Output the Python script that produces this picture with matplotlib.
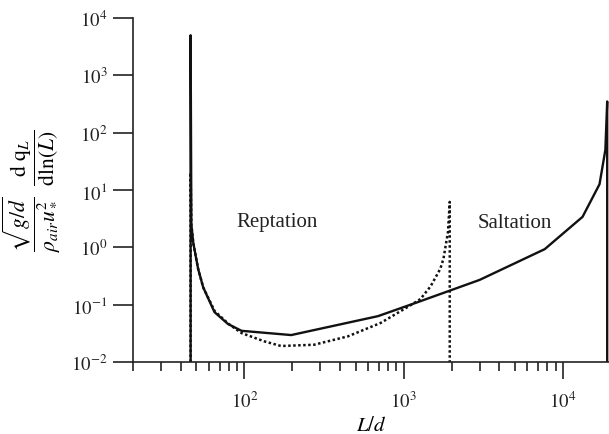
import matplotlib
matplotlib.use("Agg")
import matplotlib.pyplot as plt
from matplotlib.ticker import LogLocator, NullLocator, NullFormatter, FixedLocator

plt.rcParams['font.family'] = 'serif'
plt.rcParams['font.serif'] = ['Liberation Serif', 'DejaVu Serif']
plt.rcParams['mathtext.fontset'] = 'stix'

# Solid curve (L/d, normalised flux density)
solid_x = [46, 46, 46.5, 47.8, 51.3, 55.2, 65, 79, 96, 197, 690, 1220, 3000,
           7700, 13300, 17000, 18500, 19000, 19000]
solid_y = [0.01, 5000, 2.5, 1.2, 0.42, 0.2, 0.074, 0.046, 0.035, 0.0295, 0.063,
           0.11, 0.27, 0.93, 3.4, 12.6, 50, 350, 0.01]

# Dotted curve
dot_x = [46, 46, 46.5, 47.8, 51.3, 55.2, 65, 79, 96, 133, 170, 274, 447, 718,
         1060, 1276, 1480, 1700, 1780, 1900, 1950, 1950]
dot_y = [0.01, 20, 2.5, 1.2, 0.42, 0.2, 0.078, 0.047, 0.032, 0.023, 0.019, 0.020,
         0.028, 0.048, 0.091, 0.125, 0.21, 0.42, 0.63, 1.84, 6.2, 0.01]

x_major = [1e2, 1e3, 1e4]
x_major_labels = [r'$10^{2}$', r'$10^{3}$', r'$10^{4}$']
y_major = [1e-2, 1e-1, 1e0, 1e1, 1e2, 1e3, 1e4]
y_major_labels = [r'$10^{-2}$', r'$10^{-1}$', r'$10^{0}$', r'$10^{1}$',
                  r'$10^{2}$', r'$10^{3}$', r'$10^{4}$']

fig = plt.figure(figsize=(6.09, 4.35), dpi=100)
ax = fig.add_axes([133/609, (435-363)/435, 476/609, 344/435])

ax.plot(dot_x, dot_y, color='#111111', lw=1.8, linestyle=(0, (1, 1)))
ax.plot(solid_x, solid_y, color='#111111', lw=1.7)

ax.set_xscale('log')
ax.set_yscale('log')
ax.set_xlim(20, 19500)
ax.set_ylim(1e-2, 1e4)

ax.xaxis.set_major_locator(FixedLocator(x_major))
ax.set_xticklabels(x_major_labels)
ax.xaxis.set_minor_locator(LogLocator(base=10, subs=range(2, 10)))
ax.xaxis.set_minor_formatter(NullFormatter())
ax.yaxis.set_major_locator(FixedLocator(y_major))
ax.set_yticklabels(y_major_labels)
ax.yaxis.set_minor_locator(NullLocator())

for s in ['top', 'right']:
    ax.spines[s].set_visible(False)
for s in ['left', 'bottom']:
    ax.spines[s].set_linewidth(1.2)
    ax.spines[s].set_color('#222222')

ax.tick_params(axis='x', which='major', length=12, width=1.2, pad=9,
               labelsize=13.5, direction='out', colors='#222222')
ax.tick_params(axis='x', which='minor', length=6.5, width=1.2, direction='out',
               colors='#222222')
ax.tick_params(axis='y', which='major', length=14.4, width=1.2, pad=4,
               labelsize=13.5, direction='out', colors='#222222')

ax.set_xlabel(r'$L/d$', fontsize=15, labelpad=3)
ax.set_ylabel(r'$\dfrac{\sqrt{g/d}}{\rho_{air}u_*^2}\ \ \dfrac{\mathrm{d\ q}_L}{\mathrm{d}\ln(L)}$',
              fontsize=15.5)
ax.yaxis.set_label_coords(-0.15, 0.5)

ax.text(161, 2.86, 'Reptation', fontsize=15, ha='center', va='center', color='#222222')
ax.text(5020, 2.75, 'Saltation', fontsize=15, ha='center', va='center', color='#222222')

fig.savefig('out.png', dpi=100)
